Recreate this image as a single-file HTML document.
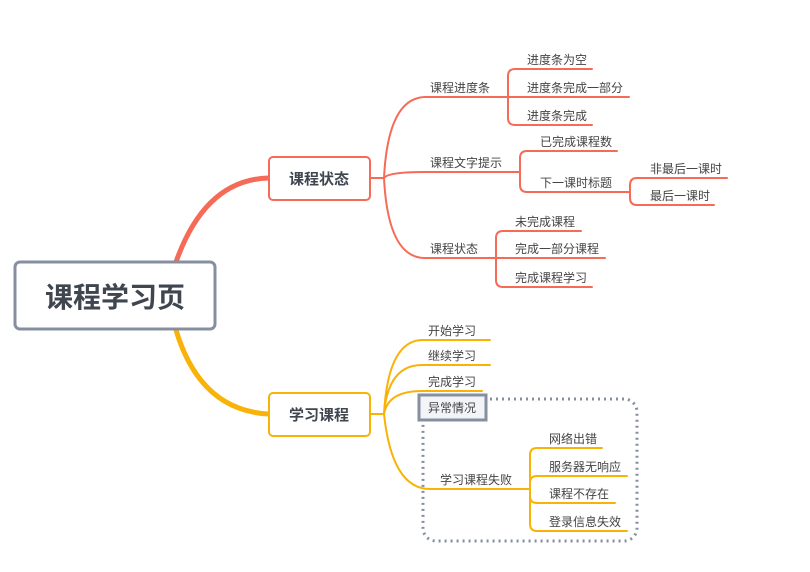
<!DOCTYPE html>
<html><head><meta charset="utf-8"><style>
body{margin:0;background:#fff}
svg{display:block}
text{font-family:"Liberation Sans","Noto Sans CJK SC",sans-serif;font-size:12px;fill:#444}
</style></head><body>
<svg width="810" height="572" viewBox="0 0 810 572" xmlns="http://www.w3.org/2000/svg">
<g fill="none" stroke-linecap="round">
<path d="M176 262 Q205 180 268 178" stroke="#f56b57" stroke-width="5"/>
<path d="M176 330 Q200 410 268 414" stroke="#f9b208" stroke-width="5"/>
<g stroke="#f56b57" stroke-width="2">
<path d="M370 178 H384"/>
<path d="M384 178 Q388 98 425 97 H508"/>
<path d="M384 178 Q388 172 425 172 H520"/>
<path d="M384 178 Q388 258 425 258 H496"/>
<path d="M508 97 V76 Q508 69 515 69 H592 M508 97 H629 M508 97 V118 Q508 125 515 125 H592"/>
<path d="M520 172 V158 Q520 151 527 151 H617 M520 172 V185 Q520 192 527 192 H630"/>
<path d="M630 192 V185 Q630 178 637 178 H727 M630 192 V198 Q630 205 637 205 H714"/>
<path d="M496 258 V238 Q496 231 503 231 H581 M496 258 H605 M496 258 V280 Q496 287 503 287 H592"/>
</g>
<g stroke="#f9b208" stroke-width="2">
<path d="M370 414 H384"/>
<path d="M384 414 Q388 341 422 340 H490"/>
<path d="M384 414 Q388 365 422 365 H490"/>
<path d="M384 414 Q388 391 422 391 H482"/>
<path d="M384 414 Q392 489 430 489 H530"/>
<path d="M530 489 V455 Q530 448 537 448 H602 M530 489 V483 Q530 476 537 476 H627 M530 489 V496 Q530 503 537 503 H615 M530 489 V524 Q530 531 537 531 H627"/>
</g>
<rect x="423" y="399" width="214" height="142" rx="13" stroke="#858fa0" stroke-width="3" stroke-dasharray="2 4" stroke-linecap="butt"/>
</g>
<rect x="15" y="262" width="200" height="67" rx="5" fill="#fff" stroke="#858fa0" stroke-width="3"/>
<text x="115" y="307" text-anchor="middle" style="font-size:28px;font-weight:bold;fill:#3f4650">课程学习页</text>
<rect x="269" y="157" width="101" height="43" rx="4" fill="#fff" stroke="#f56b57" stroke-width="2"/>
<text x="319" y="184" text-anchor="middle" style="font-size:15px;font-weight:bold;fill:#3f4650">课程状态</text>
<rect x="269" y="393" width="101" height="43" rx="4" fill="#fff" stroke="#f9b208" stroke-width="2"/>
<text x="319" y="420" text-anchor="middle" style="font-size:15px;font-weight:bold;fill:#3f4650">学习课程</text>
<rect x="419" y="395" width="67" height="25" fill="#f3f4f8" stroke="#858fa0" stroke-width="3"/>
<text x="428" y="412">异常情况</text>
<text x="430" y="92">课程进度条</text>
<text x="430" y="167">课程文字提示</text>
<text x="430" y="253">课程状态</text>
<text x="527" y="64">进度条为空</text>
<text x="527" y="92">进度条完成一部分</text>
<text x="527" y="120">进度条完成</text>
<text x="540" y="146">已完成课程数</text>
<text x="540" y="187">下一课时标题</text>
<text x="650" y="173">非最后一课时</text>
<text x="650" y="200">最后一课时</text>
<text x="515" y="226">未完成课程</text>
<text x="515" y="253">完成一部分课程</text>
<text x="515" y="282">完成课程学习</text>
<text x="428" y="335">开始学习</text>
<text x="428" y="360">继续学习</text>
<text x="428" y="386">完成学习</text>
<text x="440" y="484">学习课程失败</text>
<text x="549" y="443">网络出错</text>
<text x="549" y="471">服务器无响应</text>
<text x="549" y="498">课程不存在</text>
<text x="549" y="526">登录信息失效</text>
</svg>
</body></html>
